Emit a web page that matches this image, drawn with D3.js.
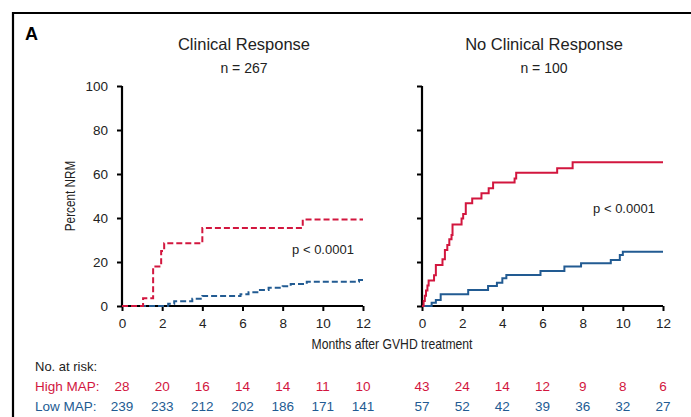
<!DOCTYPE html>
<html>
<head>
<meta charset="utf-8">
<script src="https://cdn.jsdelivr.net/npm/d3@7"></script>
<style>
  html, body { margin: 0; padding: 0; background: #fff; }
  svg { display: block; }
  text { font-family: "Liberation Sans", Arial, Helvetica, sans-serif; }
</style>
</head>
<body>
<svg id="chart" width="691" height="417"></svg>
<script>
// Cumulative incidence of non-relapse mortality by MAP group
const panelTitles = ["Clinical Response", "No Clinical Response"];
const panelN = ["n = 267", "n = 100"];
const pValues = ["p < 0.0001", "p < 0.0001"];
const groups = ["High MAP:", "Low MAP:"];

// Step curves: event months and cumulative percent
const leftHighT = [0, 1.05, 1.55, 1.95, 2.1, 4.0, 9.0, 12];
const leftHighV = [0, 3.5, 18, 25, 28.5, 35.5, 39.3, 39.3];
const leftLowT  = [0, 2.3, 2.6, 3.5, 4.0, 5.9, 6.3, 6.8, 7.3, 8.0, 8.4, 9.2, 11.8, 12];
const leftLowV  = [0, 1.0, 2.2, 3.3, 4.5, 5.3, 6.2, 7.3, 8.3, 9.0, 10.0, 11.0, 11.8, 11.8];
const rightHighT = [0, 0.08, 0.14, 0.2, 0.27, 0.33, 0.6, 0.69, 1.02, 1.14, 1.26, 1.36, 1.47, 1.52, 1.97, 2.05, 2.18, 2.5, 2.96, 3.32, 3.54, 4.61, 4.69, 6.73, 7.5, 12];
const rightHighV = [0, 2.3, 4.7, 7.0, 9.3, 11.6, 14.0, 18.6, 21.2, 25.5, 27.7, 30.3, 32.3, 37.1, 39.8, 41.8, 46.7, 48.9, 51.2, 53.5, 56.1, 58.0, 60.6, 62.6, 65.3, 65.3];
const rightLowT = [0, 0.2, 0.48, 0.69, 0.93, 2.3, 3.29, 3.73, 4.0, 4.2, 5.9, 7.09, 7.92, 9.4, 9.85, 10.0, 12];
const rightLowV = [0, 0, 1.5, 2.7, 5.3, 7.3, 9.1, 10.6, 12.6, 14.1, 15.9, 17.9, 19.4, 20.9, 23.2, 24.7, 24.7];

// Numbers at risk at months 0,2,...,12
const riskMonths = [0, 2, 4, 6, 8, 10, 12];
const leftHighRisk  = [28, 20, 16, 14, 14, 11, 10];
const leftLowRisk   = [239, 233, 212, 202, 186, 171, 141];
const rightHighRisk = [43, 24, 14, 12, 9, 8, 6];
const rightLowRisk  = [57, 52, 42, 39, 36, 32, 27];

const yTicks = [0, 20, 40, 60, 80, 100];
const xTicks = [0, 2, 4, 6, 8, 10, 12];

const RED = "#d2163e";
const BLUE = "#225b92";
const TEXT = "#222";

const svg = d3.select("#chart");

// frame
svg.append("path")
  .attr("d", "M13,420V13H695")
  .attr("fill", "none").attr("stroke", "#000").attr("stroke-width", 2.2);

svg.append("text").attr("x", 25).attr("y", 40)
  .attr("font-size", 18).attr("font-weight", "bold").attr("fill", "#000").text("A");

const y = d3.scaleLinear().domain([0, 100]).range([306, 86]);

const panels = [
  { x0: 122, title: panelTitles[0], n: panelN[0], p: pValues[0], pPos: [323, 254], dashed: true,
    high: [leftHighT, leftHighV], low: [leftLowT, leftLowV], risk: [leftHighRisk, leftLowRisk], yLabels: true },
  { x0: 422, title: panelTitles[1], n: panelN[1], p: pValues[1], pPos: [624, 213], dashed: false,
    high: [rightHighT, rightHighV], low: [rightLowT, rightLowV], risk: [rightHighRisk, rightLowRisk], yLabels: false }
];

panels.forEach(p => {
  const x = d3.scaleLinear().domain([0, 12]).range([p.x0, p.x0 + 241]);
  const cx = p.x0 + 122;

  svg.append("text").attr("x", cx).attr("y", 50).attr("text-anchor", "middle")
    .attr("font-size", 16.5).attr("fill", TEXT).text(p.title);
  svg.append("text").attr("x", cx).attr("y", 73).attr("text-anchor", "middle")
    .attr("font-size", 14).attr("fill", TEXT).text(p.n);

  // axes
  const yAxis = d3.axisLeft(y).tickValues(yTicks).tickSize(5).tickPadding(9)
    .tickFormat(p.yLabels ? d3.format("d") : () => "");
  const gy = svg.append("g").attr("transform", `translate(${p.x0},0)`).call(yAxis);
  const xAxis = d3.axisBottom(x).tickValues(xTicks).tickSize(5).tickPadding(7);
  const gx = svg.append("g").attr("transform", `translate(0,${y(0)})`).call(xAxis);
  [gx, gy].forEach(g => {
    g.select(".domain").attr("stroke", "#000").attr("stroke-width", 2.2);
    g.selectAll(".tick line").attr("stroke", "#000").attr("stroke-width", 2);
    g.selectAll(".tick text").attr("fill", TEXT).attr("font-size", 13.5)
      .attr("font-family", "Liberation Sans, Arial, sans-serif");
  });
  gx.select(".domain").attr("d", `M${x(0)},0H${x(12)}`);
  gy.select(".domain").attr("d", `M0,${y(0)}V${y(100)}`);

  const line = d3.line().x(d => x(d[0])).y(d => y(d[1])).curve(d3.curveStepAfter);
  [[p.low, BLUE], [p.high, RED]].forEach(([s, color]) => {
    const pts = s[0].map((t, i) => [t, s[1][i]]);
    svg.append("path").datum(pts).attr("d", line)
      .attr("fill", "none").attr("stroke", color).attr("stroke-width", 2)
      .attr("stroke-dasharray", p.dashed ? "6,3" : null);
  });

  svg.append("text").attr("x", p.pPos[0]).attr("y", p.pPos[1]).attr("text-anchor", "middle")
    .attr("font-size", 13).attr("fill", TEXT).text(p.p);

  // numbers at risk
  [RED, BLUE].forEach((color, gi) => {
    svg.append("g").selectAll("text").data(riskMonths).join("text")
      .attr("x", d => x(d)).attr("y", 391 + gi * 20).attr("text-anchor", "middle")
      .attr("font-size", 13.5).attr("fill", color)
      .text((d, i) => p.risk[gi][i]);
  });
});

// condensed axis titles
svg.append("text").attr("transform", "translate(75,196) rotate(-90) scale(0.84,1)")
  .attr("text-anchor", "middle").attr("font-size", 14).attr("fill", TEXT).text("Percent NRM");
svg.append("text").attr("transform", "translate(392,349) scale(0.84,1)")
  .attr("text-anchor", "middle").attr("font-size", 14.5).attr("fill", TEXT).text("Months after GVHD treatment");

svg.append("text").attr("x", 35).attr("y", 371).attr("font-size", 13).attr("fill", TEXT).text("No. at risk:");
svg.append("text").attr("x", 35).attr("y", 391).attr("font-size", 13.5).attr("fill", RED).text(groups[0]);
svg.append("text").attr("x", 35).attr("y", 411).attr("font-size", 13.5).attr("fill", BLUE).text(groups[1]);
</script>
</body>
</html>
